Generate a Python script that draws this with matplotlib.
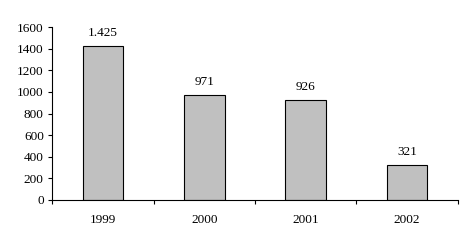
import matplotlib.pyplot as plt
import numpy as np

# values per year
years = ['1999', '2000', '2001', '2002']
values = [1425, 971, 926, 321]
labels = ['1.425', '971', '926', '321']

plt.rcParams['font.family'] = ['Liberation Serif', 'DejaVu Serif']
plt.rcParams['font.size'] = 9.5

fig = plt.figure(figsize=(4.74, 2.46), dpi=100)
ax = fig.add_axes([0.110, 0.187, 0.856, 0.703])

x = np.arange(len(years))
bars = ax.bar(x, values, width=0.4, color='#c0c0c0', edgecolor='black', linewidth=0.8)
ax.bar_label(bars, labels=labels, padding=5)

ax.set_xlim(-0.5, len(years) - 0.5)
ax.set_ylim(0, 1600)
ax.set_yticks(range(0, 1601, 200))
ax.set_xticks(x)
ax.set_xticklabels(years)
ax.set_xticks(np.arange(-0.5, len(years), 1), minor=True)
ax.tick_params(axis='x', which='major', length=0, pad=10)
ax.tick_params(axis='x', which='minor', length=3, width=0.8, direction='out')
ax.tick_params(axis='y', length=3, width=0.8, direction='out', pad=3)

for side in ['top', 'right']:
    ax.spines[side].set_visible(False)
ax.spines['left'].set_linewidth(0.8)
ax.spines['bottom'].set_linewidth(0.8)

plt.savefig('out.png', dpi=100)
